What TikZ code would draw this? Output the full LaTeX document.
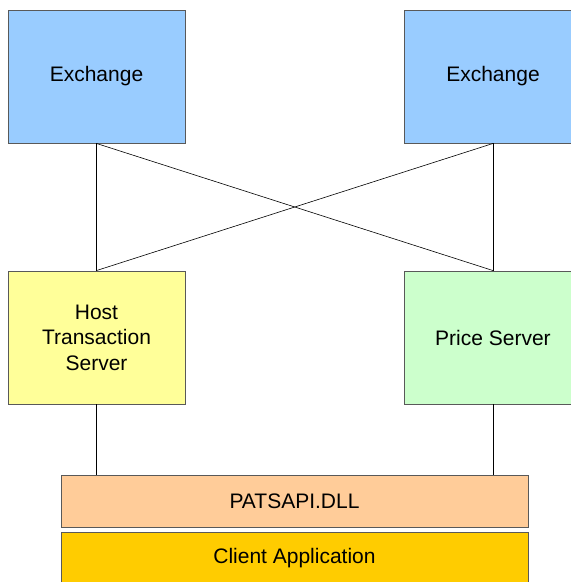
\documentclass[tikz,border=0pt]{standalone}
\usepackage{fontspec}
\setmainfont{Liberation Sans}
\definecolor{exblue}{HTML}{99CCFF}
\definecolor{hostyellow}{HTML}{FFFF99}
\definecolor{pricegreen}{HTML}{CCFFCC}
\definecolor{dllorange}{HTML}{FFCC99}
\definecolor{clientgold}{HTML}{FFCC00}
\tikzset{box/.style={draw=black!65, line width=0.9pt, minimum width=177pt, minimum height=133pt, inner sep=0pt, align=center, font=\fontsize{21}{25.5}\selectfont}}

\begin{document}
\begin{tikzpicture}[x=1pt,y=-1pt]
        \useasboundingbox (0,0) rectangle (571,582);
        \clip (0,0) rectangle (571,582);
        \node (exL) [box, fill=exblue] at (96.5,76.5) {Exchange};
        \node (exR) [box, fill=exblue] at (493,76.5) {Exchange};
        \node (host) [box, fill=hostyellow] at (96.5,337.5) {Host\\Transaction\\Server};
        \node (price) [box, fill=pricegreen] at (493,337.5) {Price Server};
        \node (dll) [box, fill=dllorange, minimum width=467pt, minimum height=52pt] at (294.5,501) {PATSAPI.DLL};
        \node (client) [box, fill=clientgold, minimum width=467pt, minimum height=52pt] at (294.5,558) {Client Application};

        \draw[line width=0.6pt] (exL.south) -- (host.north);
        \draw[line width=0.6pt] (exR.south) -- (price.north);
        \draw[line width=0.6pt] (exL.south) -- (price.north);
        \draw[line width=0.6pt] (exR.south) -- (host.north);
        \draw[line width=0.6pt] (host.south) -- (host.south |- dll.north);
        \draw[line width=0.6pt] (price.south) -- (price.south |- dll.north);
    \end{tikzpicture}
\end{document}
